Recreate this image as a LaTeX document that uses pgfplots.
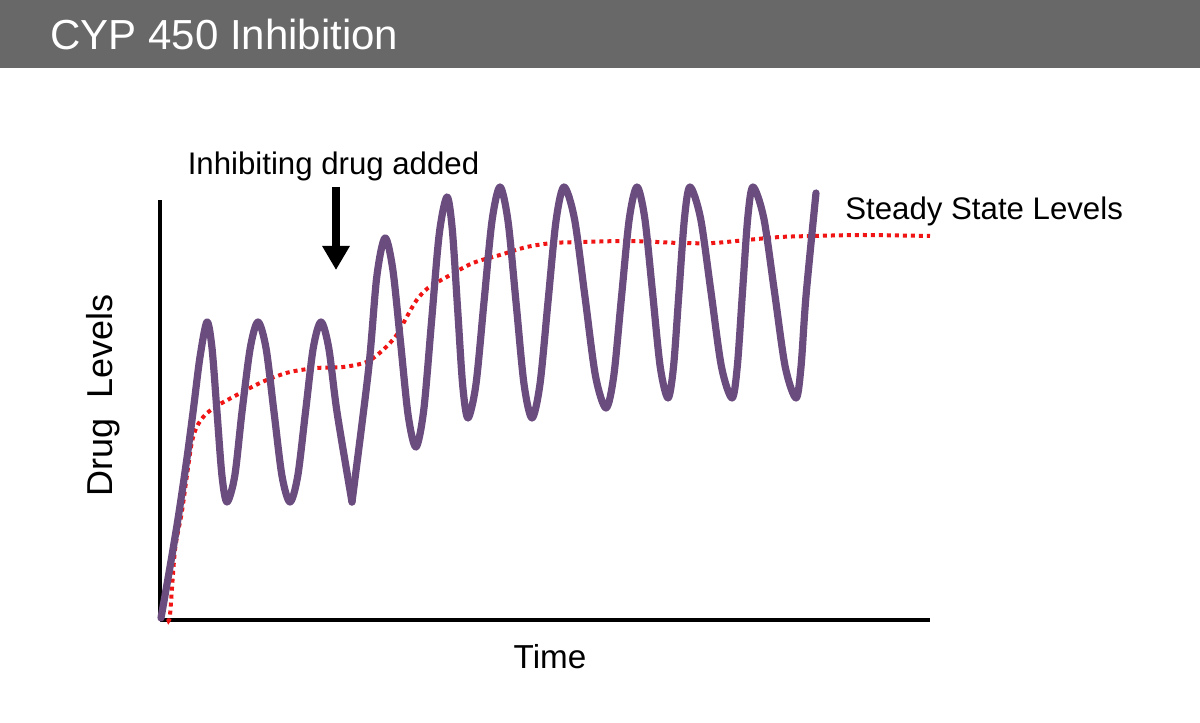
\documentclass[border=0pt]{standalone}
\usepackage{pgfplots}
\pgfplotsset{compat=1.18}
\usepackage{fontspec}
\setmainfont{Liberation Sans}
\usetikzlibrary{arrows.meta}
\definecolor{titlegray}{RGB}{104,104,104}
\definecolor{curvepurple}{RGB}{106,76,126}
\definecolor{dotred}{RGB}{240,20,20}
\begin{document}
\begin{tikzpicture}[x=0.5pt,y=0.5pt]
\fill[white] (0,0) rectangle (1200,723);
\fill[titlegray] (0,655) rectangle (1200,723);
\node[anchor=base west, text=white, inner sep=0, font=\fontsize{21pt}{25pt}\selectfont] at (50,673) {CYP 450 Inhibition};
\begin{axis}[at={(80pt,51.5pt)}, anchor=south west, scale only axis,
  width=385pt, height=210pt,
  xmin=160, xmax=930, ymin=103, ymax=523,
  axis x line=bottom, axis y line=left,
  axis line style={-, line width=2pt, black},
  xtick=\empty, ytick=\empty, clip=false]
% red dotted: steady state levels
\addplot[dotred, line width=2pt, dash pattern=on 2pt off 2pt, smooth] coordinates {
(168,104) (170,108) (175,173) (181.7,210) (186.7,246) (191.7,280) (196.7,296)
(205,308) (216.7,317) (233,326) (250,335) (266.7,343) (290,351) (316.7,355)
(343,356) (366.7,361) (383,373) (396.7,388) (406.7,406) (416.7,423) (428,435)
(446.7,446) (473,460) (500,468) (526.7,476) (553,480) (583,481) (630,482)
(680,480) (713,480) (746.7,483) (780,486) (813,487) (863,488) (930,487)
};
% purple drug level, before inhibitor
\addplot[curvepurple, line width=3.6pt, line cap=round, line join=round, smooth] coordinates {
(161,105) (170,156) (178.3,206) (186.7,263) (193.3,313) (200,366) (207,401)
(212,375) (217,311) (222,247) (227,221) (234.75,247) (242,311) (250.25,375)
(258,401) (266,375) (274,311) (282,247) (290,221) (297.75,247) (305.5,311)
(313.25,375) (321,401) (328.75,375) (337,311) (352,221)
};
% purple drug level, after inhibitor
\addplot[curvepurple, line width=3.6pt, line cap=round, line join=round, smooth] coordinates {
(352,221) (368.5,353) (376.75,446) (385,485) (392.75,454) (400.5,381)
(408.25,307) (416,276) (423.75,313) (431.5,401) (439.25,489) (447,526)
(452.25,494) (457.5,416) (462.75,337) (468,305) (476,339) (484,421)
(492,502) (500,536) (508,502) (516,421) (524,339) (532,305) (540,339)
(548,421) (556,502) (564,536) (574.5,504) (585,426) (595.5,347) (606,315)
(613.75,347) (621.5,426) (629.25,504) (637,536) (644.75,505) (652.5,431)
(660.25,356) (668,325) (673.5,356) (679,431) (684.5,505) (690,536)
(700.5,505) (711,431) (721.5,356) (732,325) (737.25,356) (742.5,431)
(747.75,505) (753,536) (763.75,505) (774.5,431) (785.25,356) (796,325)
(801,356) (806,427) (816,530)
};
\node[anchor=base, inner sep=0, font=\fontsize{15.6pt}{19pt}\selectfont] at (axis cs:333.5,548) {Inhibiting drug added};
\draw[line width=4pt, -{Triangle[width=13pt,length=12pt]}] (axis cs:336,536) -- (axis cs:336,453);
\node[anchor=base west, inner sep=0, font=\fontsize{15.6pt}{19pt}\selectfont] at (axis cs:845,503) {Steady State Levels};
\node[anchor=base, inner sep=0, font=\fontsize{16.6pt}{20pt}\selectfont] at (axis cs:550,55) {Time};
\node[anchor=base, rotate=90, inner sep=0, font=\fontsize{18pt}{21pt}\selectfont] at (axis cs:113,328) {Drug\ \ Levels};
\end{axis}
\end{tikzpicture}
\end{document}
